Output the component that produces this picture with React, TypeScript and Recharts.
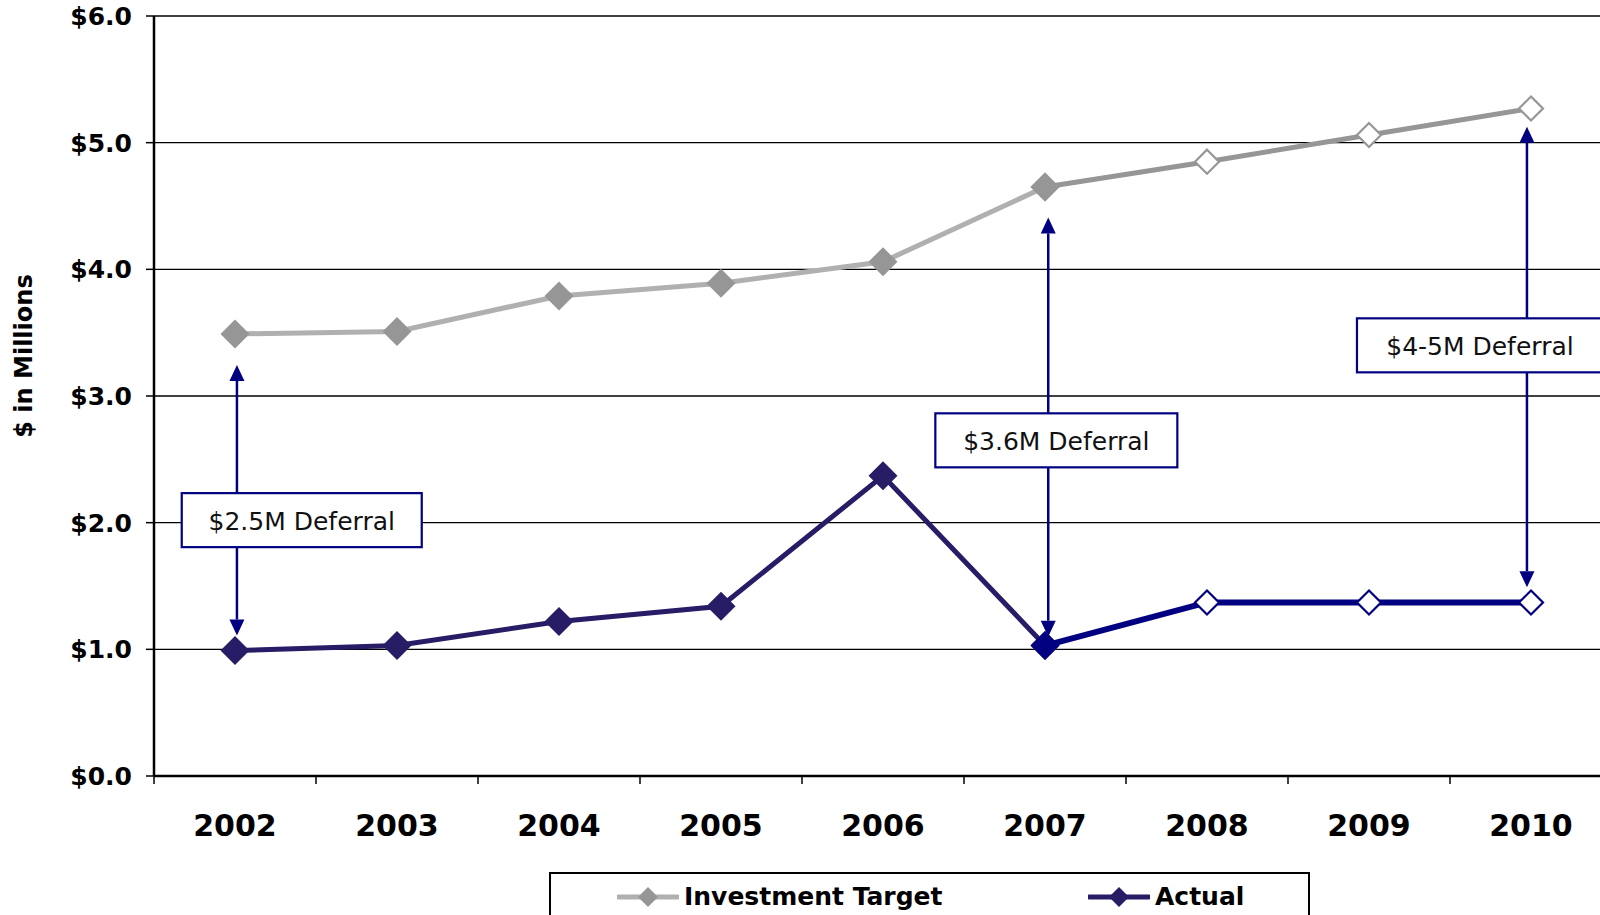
import {
  CartesianGrid,
  Line,
  LineChart,
  ReferenceDot,
  ReferenceLine,
  XAxis,
  YAxis,
} from "recharts";

const years = ["2002", "2003", "2004", "2005", "2006", "2007", "2008", "2009", "2010"];
const targetValues = [3.49, 3.51, 3.79, 3.89, 4.06, 4.65, 4.85, 5.06, 5.27];
const actualValues = [0.99, 1.03, 1.22, 1.34, 2.37, 1.03, 1.37, 1.37, 1.37];
// index of 2007: from here on the values are projections
const projectionStart = 5;
const yTicks = [0, 1, 2, 3, 4, 5, 6];

const deferralYears = [0, 5, 8];
const deferralLabels = ["$2.5M Deferral", "$3.6M Deferral", "$4-5M Deferral"];

// layout of the deferral arrows and their boxes (axis units)
const arrowNudge = [0.012, 0.02, -0.025];
const arrowGapTop = [0.245, 0.24, 0.145];
const arrowGapBottom = [0.12, 0.07, 0.12];
const boxDx = [0.4, 0.05, -0.29];
const boxY = [2.02, 2.65, 3.4];
const boxW = [240, 242, 246];

const TARGET_LIGHT = "#b0b0b0";
const TARGET_DARK = "#969696";
const ACTUAL_DARK = "#271c66";
const NAVY = "#000080";
const FONT = "'DejaVu Sans', Verdana, sans-serif";

const rows = years.map((year, i) => ({
  pos: i + 0.5,
  year,
  target: i <= projectionStart ? targetValues[i] : null,
  targetProj: i >= projectionStart ? targetValues[i] : null,
  actual: i <= projectionStart ? actualValues[i] : null,
  actualProj: i >= projectionStart ? actualValues[i] : null,
}));

const diamond = (cx: number, cy: number, r: number) =>
  `M${cx},${cy - r} L${cx + r},${cy} L${cx},${cy + r} L${cx - r},${cy} Z`;

const makeDot =
  (color: string, hollowAfter: number | null) =>
  (props: any) => {
    const { cx, cy, index, value } = props;
    if (cx == null || cy == null || value == null) return <g key={`d-${index}`} />;
    const hollow = hollowAfter != null && index > hollowAfter;
    if (hollow) {
      return (
        <path
          key={`d-${index}`}
          d={diamond(cx, cy, 12)}
          fill="#fff"
          stroke={color}
          strokeWidth={2.2}
        />
      );
    }
    return <path key={`d-${index}`} d={diamond(cx, cy, 14.5)} fill={color} />;
  };

const Arrow = (props: any) => {
  const { x1, y1, x2, y2 } = props;
  if (x1 == null || y1 == null) return <g />;
  const x = (x1 + x2) / 2;
  const top = Math.min(y1, y2);
  const bottom = Math.max(y1, y2);
  const hw = 7.5;
  const hh = 16;
  return (
    <g>
      <line x1={x} x2={x} y1={top + hh} y2={bottom - hh} stroke={NAVY} strokeWidth={2.5} />
      <polygon points={`${x},${top} ${x - hw},${top + hh} ${x + hw},${top + hh}`} fill={NAVY} />
      <polygon
        points={`${x},${bottom} ${x - hw},${bottom - hh} ${x + hw},${bottom - hh}`}
        fill={NAVY}
      />
    </g>
  );
};

const makeBox = (text: string, w: number) => (props: any) => {
  const { cx, cy } = props;
  if (cx == null || cy == null) return <g />;
  const h = 54;
  return (
    <g>
      <rect
        x={cx - w / 2}
        y={cy - h / 2}
        width={w}
        height={h}
        fill="#fff"
        stroke={NAVY}
        strokeWidth={2.2}
      />
      <text
        x={cx}
        y={cy + 1}
        textAnchor="middle"
        dominantBaseline="central"
        fontFamily={FONT}
        fontSize={25}
        fill="#111"
      >
        {text}
      </text>
    </g>
  );
};

// boundary ticks only, no labels
const NoLabel = () => <g />;

const LegendItem = ({ left, line, marker, label }: any) => (
  <div style={{ position: "absolute", left, top: 8, display: "flex", alignItems: "center" }}>
    <svg width={62} height={30}>
      <line x1={1} x2={61} y1={15} y2={15} stroke={line} strokeWidth={5} strokeLinecap="round" />
      <path d={diamond(31, 15, 10)} fill={marker} />
    </svg>
    <span
      style={{
        marginLeft: 5,
        fontFamily: FONT,
        fontWeight: "bold",
        fontSize: 25,
        color: "#000",
        lineHeight: "30px",
      }}
    >
      {label}
    </span>
  </div>
);

export default function App() {
  return (
    <div
      style={{
        position: "absolute",
        left: 0,
        top: 0,
        width: 1600,
        height: 915,
        overflow: "hidden",
        background: "#fff",
      }}
    >
      <LineChart
        width={1620}
        height={915}
        data={rows}
        margin={{ top: 16, right: 8, bottom: 0, left: 0 }}
      >
        <CartesianGrid
          xAxisId="grid"
          vertical={false}
          stroke="#000"
          strokeWidth={1.3}
          strokeOpacity={1}
        />
        <XAxis
          xAxisId="grid"
          dataKey="pos"
          type="number"
          domain={[0, years.length]}
          allowDataOverflow
          ticks={years.map((_, i) => i).concat(years.length)}
          interval={0}
          tick={NoLabel}
          tickSize={8}
          height={10}
          axisLine={{ stroke: "#000", strokeWidth: 2.5 }}
          tickLine={{ stroke: "#000", strokeWidth: 1.5 }}
        />
        <XAxis
          xAxisId="labels"
          dataKey="pos"
          type="number"
          domain={[0, years.length]}
          allowDataOverflow
          ticks={years.map((_, i) => i + 0.5)}
          tickFormatter={(v: number) => years[Math.floor(v)]}
          interval={0}
          axisLine={false}
          tickLine={false}
          tickSize={0}
          tickMargin={29}
          height={129}
          tick={{ fill: "#000", fontSize: 30, fontWeight: "bold", fontFamily: FONT }}
        />
        <YAxis
          type="number"
          domain={[0, 6]}
          ticks={yTicks}
          interval={0}
          tickFormatter={(v: number) => `$${v.toFixed(1)}`}
          width={154}
          tickSize={8}
          tickMargin={14}
          axisLine={{ stroke: "#000", strokeWidth: 2.5 }}
          tickLine={{ stroke: "#000", strokeWidth: 1.5 }}
          tick={{ fill: "#000", fontSize: 25, fontWeight: "bold", fontFamily: FONT }}
          label={{
            content: () => (
              <text
                x={24}
                y={356}
                transform="rotate(-90, 24, 356)"
                textAnchor="middle"
                dominantBaseline="central"
                fontFamily={FONT}
                fontWeight="bold"
                fontSize={24}
                fill="#000"
              >
                $ in Millions
              </text>
            ),
          }}
        />

        <Line
          xAxisId="grid"
          dataKey="target"
          stroke={TARGET_LIGHT}
          strokeWidth={5}
          dot={makeDot(TARGET_DARK, null)}
          activeDot={false}
          isAnimationActive={false}
        />
        <Line
          xAxisId="grid"
          dataKey="targetProj"
          stroke={TARGET_DARK}
          strokeWidth={5}
          dot={makeDot(TARGET_DARK, projectionStart)}
          activeDot={false}
          isAnimationActive={false}
        />
        <Line
          xAxisId="grid"
          dataKey="actual"
          stroke={ACTUAL_DARK}
          strokeWidth={5}
          dot={makeDot(ACTUAL_DARK, null)}
          activeDot={false}
          isAnimationActive={false}
        />
        <Line
          xAxisId="grid"
          dataKey="actualProj"
          stroke={NAVY}
          strokeWidth={6}
          dot={makeDot(NAVY, projectionStart)}
          activeDot={false}
          isAnimationActive={false}
        />

        {deferralYears.map((idx, k) => {
          const x = idx + 0.5 + arrowNudge[k];
          return (
            <ReferenceLine
              key={`arrow-${k}`}
              xAxisId="grid"
              ifOverflow="visible"
              segment={[
                { x, y: targetValues[idx] - arrowGapTop[k] },
                { x, y: actualValues[idx] + arrowGapBottom[k] },
              ]}
              shape={Arrow}
            />
          );
        })}
        {deferralYears.map((idx, k) => (
          <ReferenceDot
            key={`box-${k}`}
            xAxisId="grid"
            ifOverflow="visible"
            x={idx + 0.5 + arrowNudge[k] + boxDx[k]}
            y={boxY[k]}
            r={1}
            shape={makeBox(deferralLabels[k], boxW[k])}
          />
        ))}
      </LineChart>

      <div
        style={{
          position: "absolute",
          left: 549,
          top: 872,
          width: 757,
          height: 60,
          border: "2px solid #000",
          background: "#fff",
        }}
      >
        <LegendItem left={66} line={TARGET_LIGHT} marker={TARGET_DARK} label="Investment Target" />
        <LegendItem left={537} line={ACTUAL_DARK} marker={ACTUAL_DARK} label="Actual" />
      </div>
    </div>
  );
}
